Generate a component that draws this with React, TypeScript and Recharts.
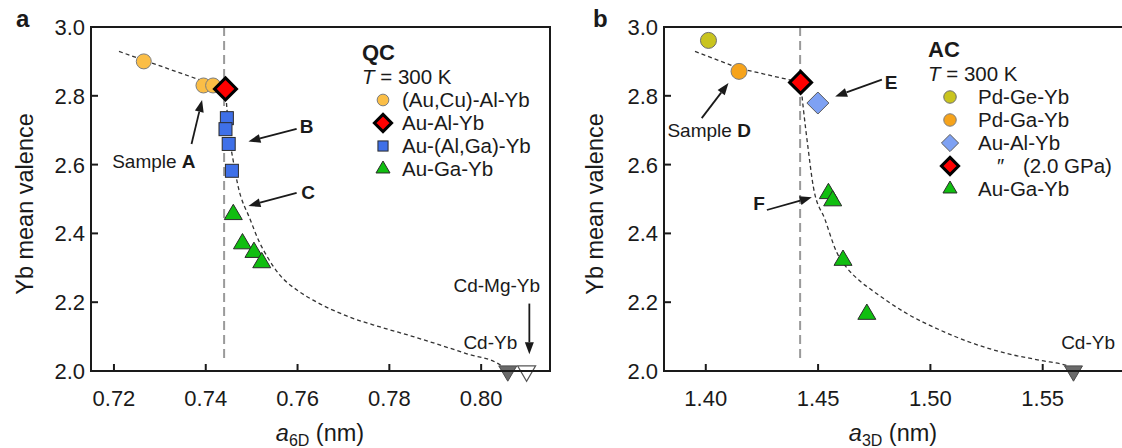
import React from "react";
import { ComposedChart, Scatter, Line, XAxis, YAxis, ReferenceLine, ReferenceDot } from "recharts";

const FONT = '"Liberation Sans", Arial, Helvetica, sans-serif';
const INK = "#1a1a1a";

// ---- panel a (QC) ----
const auCuAlYbQC = [{ x: 0.7265, y: 2.9 }, { x: 0.7395, y: 2.83 }, { x: 0.7416, y: 2.83 }];
const auAlYbQC = [{ x: 0.7443, y: 2.82 }];
const auAlGaYbQC = [{ x: 0.7446, y: 2.735 }, { x: 0.7443, y: 2.703 }, { x: 0.745, y: 2.66 }, { x: 0.7457, y: 2.582 }];
const auGaYbQC = [{ x: 0.746, y: 2.455 }, { x: 0.748, y: 2.37 }, { x: 0.7505, y: 2.345 }, { x: 0.7522, y: 2.315 }];
const cdYbQC = [{ x: 0.8058, y: 2.0 }];
const cdMgYbQC = [{ x: 0.8099, y: 2.0 }];
const fitUpperQC = [{ x: 0.7211, y: 2.929 }, { x: 0.7443, y: 2.82 }];
const fitLowerQC = [
  { x: 0.7443, y: 2.82 }, { x: 0.745, y: 2.7 }, { x: 0.746, y: 2.61 }, { x: 0.747, y: 2.54 },
  { x: 0.7497, y: 2.44 }, { x: 0.7515, y: 2.38 }, { x: 0.7535, y: 2.33 }, { x: 0.7562, y: 2.278 },
  { x: 0.7598, y: 2.236 }, { x: 0.7634, y: 2.206 }, { x: 0.7707, y: 2.16 }, { x: 0.778, y: 2.128 },
  { x: 0.7852, y: 2.1 }, { x: 0.7969, y: 2.05 }, { x: 0.8041, y: 2.018 }, { x: 0.8058, y: 2.0 },
];
const xTicksQC = [0.72, 0.74, 0.76, 0.78, 0.8];
const yTicks = [2.0, 2.2, 2.4, 2.6, 2.8, 3.0];
const notesQC = [
  { x: 0.7287, y: 2.608, text: "Sample ", bold: "A" },
  { x: 0.762, y: 2.71, text: "", bold: "B" },
  { x: 0.7623, y: 2.518, text: "", bold: "C" },
  { x: 0.8034, y: 2.25, text: "Cd-Mg-Yb", bold: "" },
  { x: 0.802, y: 2.082, text: "Cd-Yb", bold: "" },
];
const arrowsQC = [
  { x1: 0.7369, y1: 2.66, x2: 0.7392, y2: 2.788 },
  { x1: 0.7598, y1: 2.704, x2: 0.7493, y2: 2.667 },
  { x1: 0.7598, y1: 2.518, x2: 0.7493, y2: 2.48 },
  { x1: 0.8105, y1: 2.196, x2: 0.8105, y2: 2.049 },
];

// ---- panel b (AC) ----
const pdGeYbAC = [{ x: 1.4012, y: 2.961 }];
const pdGaYbAC = [{ x: 1.4148, y: 2.871 }];
const auAlYbAC = [{ x: 1.4499, y: 2.779 }];
const auAlYbGPaAC = [{ x: 1.4422, y: 2.839 }];
const auGaYbAC = [{ x: 1.4546, y: 2.516 }, { x: 1.4565, y: 2.495 }, { x: 1.4611, y: 2.322 }, { x: 1.4717, y: 2.165 }];
const cdYbAC = [{ x: 1.5637, y: 2.0 }];
const fitUpperAC = [{ x: 1.3952, y: 2.929 }, { x: 1.4148, y: 2.88 }, { x: 1.4422, y: 2.839 }];
const fitLowerAC = [
  { x: 1.4422, y: 2.839 }, { x: 1.4435, y: 2.759 }, { x: 1.4455, y: 2.65 }, { x: 1.4479, y: 2.535 },
  { x: 1.4531, y: 2.44 }, { x: 1.4583, y: 2.345 }, { x: 1.4628, y: 2.3 }, { x: 1.468, y: 2.265 },
  { x: 1.4746, y: 2.232 }, { x: 1.4895, y: 2.167 }, { x: 1.5043, y: 2.119 }, { x: 1.5191, y: 2.08 },
  { x: 1.534, y: 2.051 }, { x: 1.5488, y: 2.031 }, { x: 1.5622, y: 2.012 }, { x: 1.5637, y: 2.0 },
];
const xTicksAC = [1.4, 1.45, 1.5, 1.55];
const notesAC = [
  { x: 1.4015, y: 2.701, text: "Sample ", bold: "D" },
  { x: 1.4825, y: 2.839, text: "", bold: "E" },
  { x: 1.4237, y: 2.487, text: "", bold: "F" },
  { x: 1.5702, y: 2.084, text: "Cd-Yb", bold: "" },
];
const arrowsAC = [
  { x1: 1.3982, y1: 2.735, x2: 1.4101, y2: 2.837 },
  { x1: 1.4784, y1: 2.847, x2: 1.4576, y2: 2.798 },
  { x1: 1.4272, y1: 2.468, x2: 1.4472, y2: 2.505 },
];

const ST: Record<string, any> = {
  orange: { kind: "circle", fill: "#FBBE46", stroke: "#7d7d7d", sw: 1, size: 15 },
  red: { kind: "diamond", fill: "#FF0000", stroke: "#000", sw: 3, size: 22 },
  blue: { kind: "square", fill: "#3F70E8", stroke: "#2b2b2b", sw: 1, size: 13 },
  green: { kind: "triUp", fill: "#10BE10", stroke: "#2b2b2b", sw: 1, size: 18 },
  cdyb: { kind: "triDown", fill: "#6a6a6a", stroke: "#4a4a4a", sw: 1, size: 18 },
  cdmg: { kind: "triDown", fill: "#ffffff", stroke: "#555", sw: 1.2, size: 18 },
  olive: { kind: "circle", fill: "#C9C41E", stroke: "#6d6d6d", sw: 1, size: 16 },
  amber: { kind: "circle", fill: "#F6A31B", stroke: "#7d7d7d", sw: 1, size: 16 },
  lblue: { kind: "diamond", fill: "#7EA1F3", stroke: "#5a5a5a", sw: 1, size: 22 },
};

function Marker({ st, cx, cy, k = 1 }: any) {
  const s = st.size * k;
  const common = { fill: st.fill, stroke: st.stroke, strokeWidth: st.sw };
  if (st.kind === "circle") return <circle cx={cx} cy={cy} r={s / 2} {...common} />;
  if (st.kind === "square") return <rect x={cx - s / 2} y={cy - s / 2} width={s} height={s} {...common} />;
  if (st.kind === "diamond") {
    const h = s / 2;
    return <polygon points={`${cx},${cy - h} ${cx + h},${cy} ${cx},${cy + h} ${cx - h},${cy}`} {...common} />;
  }
  const h = s * 0.85;
  if (st.kind === "triUp")
    return <polygon points={`${cx},${cy - (2 * h) / 3} ${cx + s / 2},${cy + h / 3} ${cx - s / 2},${cy + h / 3}`} {...common} />;
  return <polygon points={`${cx - s / 2},${cy - h / 3} ${cx + s / 2},${cy - h / 3} ${cx},${cy + (2 * h) / 3}`} {...common} />;
}

const shapeOf = (st: any) => (p: any) => <Marker st={st} cx={p.cx} cy={p.cy} />;

const Arrow = (p: any) => {
  const { x1, y1, x2, y2 } = p;
  const a = Math.atan2(y2 - y1, x2 - x1);
  const L = 12, W = 4.5;
  const bx = x2 - L * Math.cos(a), by = y2 - L * Math.sin(a);
  const px = -Math.sin(a) * W, py = Math.cos(a) * W;
  return (
    <g>
      <line x1={x1} y1={y1} x2={bx} y2={by} stroke={INK} strokeWidth={1.8} />
      <polygon points={`${x2},${y2} ${bx + px},${by + py} ${bx - px},${by - py}`} fill={INK} />
    </g>
  );
};

const noteShape = (n: any) => (p: any) => (
  <text x={p.cx} y={p.cy} dy="0.35em" textAnchor="middle" fontFamily={FONT} fontSize={19} fill={INK}>
    {n.text}
    {n.bold && <tspan fontWeight="bold">{n.bold}</tspan>}
  </text>
);

const axisStyle = { stroke: INK, strokeWidth: 2 };
const TICK = 7;
const XM = 19; // gap axis -> x tick label top
const YM = 6; // gap axis -> y tick label right

// inward ticks drawn by the tick renderers (tickSize is 0, so p.x / p.y sit tickMargin away from the axis)
const bottomTick = (digits: number) => (p: any) => {
  const ay = p.y - XM;
  return (
    <g>
      <line x1={p.x} y1={ay} x2={p.x} y2={ay - TICK} stroke={INK} strokeWidth={2} />
      <text x={p.x} y={p.y} dy="0.71em" textAnchor="middle" fontFamily={FONT} fontSize={22} fill={INK}>
        {Number(p.payload.value).toFixed(digits)}
      </text>
    </g>
  );
};
const leftTick = (p: any) => {
  const ax = p.x + YM;
  return (
    <g>
      <line x1={ax} y1={p.y} x2={ax + TICK} y2={p.y} stroke={INK} strokeWidth={2} />
      <text x={p.x} y={p.y} dy="0.36em" textAnchor="end" fontFamily={FONT} fontSize={22} fill={INK}>
        {Number(p.payload.value).toFixed(1)}
      </text>
    </g>
  );
};
const topTick = (p: any) => (
  <line x1={p.x} y1={p.y} x2={p.x} y2={p.y + TICK} stroke={INK} strokeWidth={2} />
);

function Panel({ domain, xTicks, xDigits, series, fits, vline, notes, arrows, width, yWidth, right }: any) {
  return (
    <ComposedChart width={width} height={448} margin={{ top: 26, right, bottom: 37, left: 0 }}>
      <XAxis dataKey="x" type="number" domain={domain} ticks={xTicks} interval={0}
        tick={bottomTick(xDigits)} stroke={INK} axisLine={axisStyle} tickLine={false}
        tickSize={0} tickMargin={XM} height={40} />
      <XAxis xAxisId="top" orientation="top" dataKey="x" type="number" domain={domain} ticks={xTicks} interval={0}
        tick={topTick} stroke={INK} axisLine={axisStyle} tickLine={false} tickSize={0} tickMargin={0} height={1} />
      <YAxis dataKey="y" type="number" domain={[2, 3]} ticks={yTicks} interval={0}
        tick={leftTick} stroke={INK} axisLine={axisStyle} tickLine={false}
        tickSize={0} tickMargin={YM} width={yWidth} />
      <ReferenceLine segment={[{ x: vline, y: 3.0 }, { x: vline, y: 2.03 }]} stroke="#9a9a9a" strokeWidth={2}
        strokeDasharray="9 5" ifOverflow="visible" />
      {fits.map((f: any, i: number) => (
        <Line key={"f" + i} data={f.data} dataKey="y" type={f.type} stroke="#333" strokeWidth={1.3}
          strokeDasharray="4 3" dot={false} activeDot={false} isAnimationActive={false} />
      ))}
      {arrows.map((a: any, i: number) => (
        <ReferenceLine key={"a" + i} segment={[{ x: a.x1, y: a.y1 }, { x: a.x2, y: a.y2 }]} shape={Arrow} ifOverflow="visible" />
      ))}
      {notes.map((n: any, i: number) => (
        <ReferenceDot key={"n" + i} x={n.x} y={n.y} r={1} shape={noteShape(n)} ifOverflow="visible" />
      ))}
      {series.map((s: any, i: number) => (
        <Scatter key={"s" + i} name={s.name} data={s.data} shape={shapeOf(ST[s.st])} isAnimationActive={false} />
      ))}
    </ComposedChart>
  );
}

const seriesQC = [
  { name: "(Au,Cu)-Al-Yb", data: auCuAlYbQC, st: "orange" },
  { name: "Au-(Al,Ga)-Yb", data: auAlGaYbQC, st: "blue" },
  { name: "Au-Al-Yb", data: auAlYbQC, st: "red" },
  { name: "Au-Ga-Yb", data: auGaYbQC, st: "green" },
  { name: "Cd-Yb", data: cdYbQC, st: "cdyb" },
  { name: "Cd-Mg-Yb", data: cdMgYbQC, st: "cdmg" },
];
const seriesAC = [
  { name: "Pd-Ge-Yb", data: pdGeYbAC, st: "olive" },
  { name: "Pd-Ga-Yb", data: pdGaYbAC, st: "amber" },
  { name: "Au-Al-Yb", data: auAlYbAC, st: "lblue" },
  { name: "Au-Al-Yb (2.0 GPa)", data: auAlYbGPaAC, st: "red" },
  { name: "Au-Ga-Yb", data: auGaYbAC, st: "green" },
  { name: "Cd-Yb", data: cdYbAC, st: "cdyb" },
];
const legendQC = [
  { label: "(Au,Cu)-Al-Yb", st: "orange" },
  { label: "Au-Al-Yb", st: "red" },
  { label: "Au-(Al,Ga)-Yb", st: "blue" },
  { label: "Au-Ga-Yb", st: "green" },
];
const legendAC = [
  { label: "Pd-Ge-Yb", st: "olive" },
  { label: "Pd-Ga-Yb", st: "amber" },
  { label: "Au-Al-Yb", st: "lblue" },
  { label: "(2.0 GPa)", st: "red", ditto: true },
  { label: "Au-Ga-Yb", st: "green" },
];

function LegendBlock({ x, y, title, items, mx, tx }: any) {
  return (
    <g fontFamily={FONT} fill={INK}>
      <text x={x} y={y + 8} fontSize={22} fontWeight="bold">{title}</text>
      <text x={x} y={y + 32} fontSize={20.5}>
        <tspan fontStyle="italic">T</tspan> = 300 K
      </text>
      {items.map((it: any, i: number) => {
        const cy = y + 48 + i * 23;
        return (
          <g key={i}>
            <Marker st={ST[it.st]} cx={mx} cy={cy} k={0.78} />
            {it.ditto ? (
              <>
                <text x={tx + 18} y={cy + 7} fontSize={20.5} fontStyle="italic">″</text>
                <text x={tx + 45} y={cy + 7} fontSize={20.5}>{it.label}</text>
              </>
            ) : (
              <text x={tx} y={cy + 7} fontSize={20.5}>{it.label}</text>
            )}
          </g>
        );
      })}
    </g>
  );
}

// plot boxes (px): left, top, right, bottom — matches the chart margins / axis sizes above
const boxA = { l: 91, t: 27, r: 550, b: 371 };
const boxB = { l: 664, t: 27, r: 1122, b: 371 };

export default function App() {
  return (
    <div style={{ position: "absolute", left: 0, top: 0, width: 1122, height: 448, background: "#fff", overflow: "hidden" }}>
      <div style={{ position: "absolute", left: 0, top: 0 }}>
        <Panel domain={[0.715, 0.815]} xTicks={xTicksQC} xDigits={2} series={seriesQC} vline={0.744}
          fits={[{ data: fitUpperQC, type: "linear" }, { data: fitLowerQC, type: "monotone" }]}
          notes={notesQC} arrows={arrowsQC} width={560} yWidth={91} right={10} />
      </div>
      <div style={{ position: "absolute", left: 560, top: 0 }}>
        <Panel domain={[1.3814, 1.5853]} xTicks={xTicksAC} xDigits={2} series={seriesAC} vline={1.442}
          fits={[{ data: fitUpperAC, type: "linear" }, { data: fitLowerAC, type: "monotone" }]}
          notes={notesAC} arrows={arrowsAC} width={562} yWidth={104} right={0} />
      </div>
      <svg width={1122} height={448} style={{ position: "absolute", left: 0, top: 0, pointerEvents: "none" }}>
        <path d={`M${boxA.r},${boxA.t} H${boxA.l} V${boxA.b} H${boxA.r} Z`} fill="none" stroke={INK} strokeWidth={2} />
        <path d={`M${boxB.r},${boxB.t} H${boxB.l} V${boxB.b} H${boxB.r}`} fill="none" stroke={INK} strokeWidth={2} />
        <text x={16} y={27} fontFamily={FONT} fontSize={24} fontWeight="bold" fill={INK}>a</text>
        <text x={593} y={27} fontFamily={FONT} fontSize={24} fontWeight="bold" fill={INK}>b</text>
        <text transform="translate(33,204) rotate(-90)" textAnchor="middle" fontFamily={FONT} fontSize={23.5} fill={INK}>
          Yb mean valence
        </text>
        <text transform="translate(603,204) rotate(-90)" textAnchor="middle" fontFamily={FONT} fontSize={23.5} fill={INK}>
          Yb mean valence
        </text>
        <text x={320} y={441} textAnchor="middle" fontFamily={FONT} fontSize={23.5} fill={INK}>
          <tspan fontStyle="italic">a</tspan>
          <tspan fontSize={16} dy={5}>6D</tspan>
          <tspan dy={-5}> (nm)</tspan>
        </text>
        <text x={893} y={441} textAnchor="middle" fontFamily={FONT} fontSize={23.5} fill={INK}>
          <tspan fontStyle="italic">a</tspan>
          <tspan fontSize={16} dy={5}>3D</tspan>
          <tspan dy={-5}> (nm)</tspan>
        </text>
        <LegendBlock x={362} y={52} title="QC" items={legendQC} mx={383} tx={402} />
        <LegendBlock x={928} y={49} title="AC" items={legendAC} mx={950} tx={978} />
      </svg>
    </div>
  );
}
